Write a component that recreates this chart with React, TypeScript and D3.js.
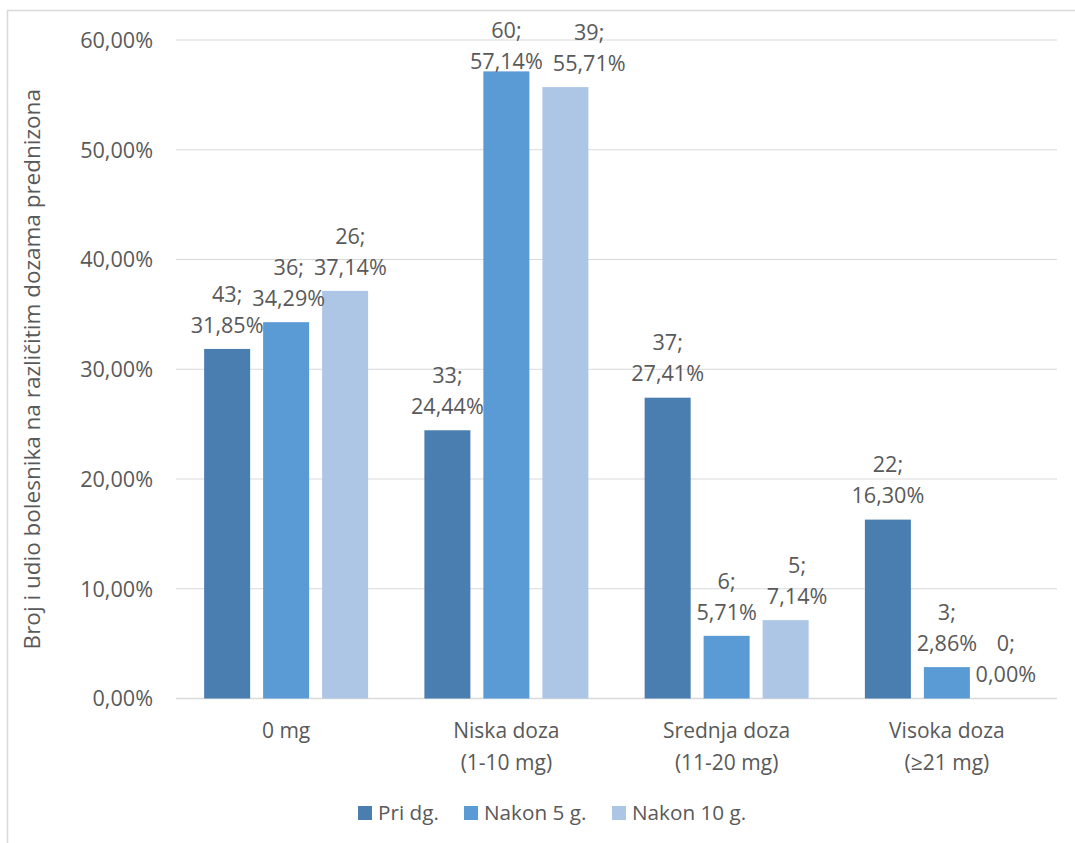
import React from "react";
import * as d3 from "d3";

const categories: string[][] = [
  ["0 mg"],
  ["Niska doza", "(1-10 mg)"],
  ["Srednja doza", "(11-20 mg)"],
  ["Visoka doza", "(≥21 mg)"],
];
const seriesNames = ["Pri dg.", "Nakon 5 g.", "Nakon 10 g."];
const seriesColors = ["#4A7EB0", "#5B9BD5", "#ADC6E6"];
const counts = [
  [43, 33, 37, 22],
  [36, 60, 6, 3],
  [26, 39, 5, 0],
];
const percents = [
  [31.85, 24.44, 27.41, 16.3],
  [34.29, 57.14, 5.71, 2.86],
  [37.14, 55.71, 7.14, 0.0],
];
const yTicks = [0, 10, 20, 30, 40, 50, 60];
const yTitle = "Broj i udio bolesnika na različitim dozama prednizona";

const W = 1075;
const H = 843;
const left = 176;
const right = 1057;
const top = 40;
const bottom = 698.5;
const FONT = "'Open Sans', 'Segoe UI', sans-serif";
const TXT = "#595959";
const LBL = 21.6;

const fmt = (v: number) => d3.format(".2f")(v).replace(".", ",") + "%";

let ctx: CanvasRenderingContext2D | null = null;
function measure(s: string, size: number) {
  if (!ctx && typeof document !== "undefined") {
    ctx = document.createElement("canvas").getContext("2d");
  }
  if (!ctx) return s.length * size * 0.56;
  ctx.font = `${size}px 'Open Sans'`;
  return ctx.measureText(s).width;
}

export default function App() {
  const x0 = d3
    .scaleBand<number>()
    .domain(d3.range(categories.length))
    .range([left, right])
    .paddingInner(0.2554)
    .paddingOuter(0.1277);
  const x1 = d3
    .scaleBand<number>()
    .domain(d3.range(seriesNames.length))
    .range([0, x0.bandwidth()])
    .paddingInner(0.22)
    .paddingOuter(0);
  const y = d3.scaleLinear().domain([0, 60]).range([bottom, top]);

  // data labels with simple collision avoidance (shift right)
  type Line = { text: string; cx: number; cy: number; w: number };
  const labels: Line[][][] = categories.map((_, ci) => {
    const out: Line[][] = [];
    seriesNames.forEach((_, si) => {
      const by = y(percents[si][ci]);
      const cx = (x0(ci) ?? 0) + (x1(si) ?? 0) + x1.bandwidth() / 2;
      const c1 = Math.max(by - 55, 30);
      const c2 = c1 + 31;
      const lines: Line[] = [
        { text: `${counts[si][ci]};`, cx, cy: c1, w: measure(`${counts[si][ci]};`, LBL) },
        { text: fmt(percents[si][ci]), cx, cy: c2, w: measure(fmt(percents[si][ci]), LBL) },
      ];
      if (si > 0) {
        let shift = 0;
        out[si - 1].forEach((p) => {
          lines.forEach((l) => {
            if (Math.abs(p.cy - l.cy) < 24) {
              const need = p.cx + p.w / 2 + 10 - (l.cx - l.w / 2);
              if (need > shift) shift = need;
            }
          });
        });
        lines.forEach((l) => (l.cx += shift));
      }
      out.push(lines);
    });
    return out;
  });

  const legendX = [358, 464, 612];

  return (
    <svg
      width={W}
      height={H}
      style={{ position: "absolute", left: 0, top: 0, background: "#fff" }}
      fontFamily={FONT}
    >
      <rect x={7.5} y={10.5} width={1100} height={900} fill="#fff" stroke="#d9d9d9" strokeWidth={1.5} />
      {yTicks.map((t) => (
        <g key={t}>
          <line x1={left} x2={right} y1={y(t)} y2={y(t)} stroke="#d9d9d9" strokeWidth={t === 0 ? 1.5 : 1.2} />
          <text x={153} y={y(t)} dy="0.36em" textAnchor="end" fontSize={LBL} fill={TXT}>
            {fmt(t)}
          </text>
        </g>
      ))}
      <text
        transform={`translate(32,${(top + bottom) / 2}) rotate(-90)`}
        textAnchor="middle"
        dy="0.36em"
        fontSize={22.5}
        fill={TXT}
      >
        {yTitle}
      </text>
      {seriesNames.map((s, si) =>
        categories.map((c, ci) => {
          const bx = (x0(ci) ?? 0) + (x1(si) ?? 0);
          const by = y(percents[si][ci]);
          return (
            <rect
              key={`${si}-${ci}`}
              x={bx}
              y={by}
              width={x1.bandwidth()}
              height={bottom - by}
              fill={seriesColors[si]}
            />
          );
        })
      )}
      {labels.map((cat, ci) =>
        cat.map((lines, si) =>
          lines.map((l, li) => (
            <text
              key={`${ci}-${si}-${li}`}
              x={l.cx}
              y={l.cy}
              dy="0.36em"
              textAnchor="middle"
              fontSize={LBL}
              fill={TXT}
            >
              {l.text}
            </text>
          ))
        )
      )}
      {categories.map((c, ci) => (
        <text key={ci} textAnchor="middle" fontSize={21} fill={TXT}>
          {c.map((line, li) => (
            <tspan key={li} x={(x0(ci) ?? 0) + x0.bandwidth() / 2} y={738 + li * 32}>
              {line}
            </tspan>
          ))}
        </text>
      ))}
      {seriesNames.map((s, si) => (
        <g key={s}>
          <rect x={legendX[si]} y={806} width={14} height={14} fill={seriesColors[si]} />
          <text x={legendX[si] + 20} y={813} dy="0.36em" fontSize={20.7} fill={TXT}>
            {s}
          </text>
        </g>
      ))}
    </svg>
  );
}
